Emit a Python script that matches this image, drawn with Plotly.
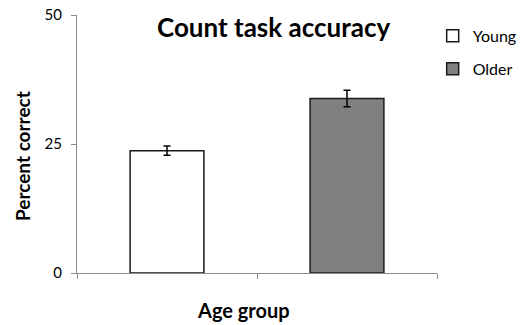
import plotly.graph_objects as go

# Count task accuracy by age group
groups = ["Young", "Older"]
accuracy = [23.7, 33.8]
sem = [0.9, 1.6]
fills = ["#ffffff", "#808080"]

FONT = "Lato"
AXIS_GREY = "#8c8c8c"

fig = go.Figure()
for i, (g, v, e, c) in enumerate(zip(groups, accuracy, sem, fills)):
    fig.add_trace(go.Bar(
        x=[g], y=[v], name=g,
        width=0.41, showlegend=True,
        marker=dict(color=c, line=dict(color="#1a1a1a", width=1.5)),
        error_y=dict(type="data", array=[e], visible=True,
                     color="#000000", thickness=1.5, width=3.5),
        legend="legend" if i == 0 else "legend2",
    ))

fig.update_layout(
    width=528, height=325,
    margin=dict(l=77, r=91, t=15, b=52, autoexpand=False),
    paper_bgcolor="white", plot_bgcolor="white",
    barmode="overlay", showlegend=True,
    font=dict(family=FONT, color="#000000"),
    legend=dict(x=0.988, xanchor="left", y=0.985, yanchor="top",
                font=dict(size=16, family=FONT), bgcolor="rgba(0,0,0,0)"),
    legend2=dict(x=0.988, xanchor="left", y=0.857, yanchor="top",
                 font=dict(size=16, family=FONT), bgcolor="rgba(0,0,0,0)"),
    annotations=[
        dict(text="<b>Count task accuracy</b>", xref="paper", yref="paper",
             x=0.546, y=0.955, xanchor="center", yanchor="middle",
             showarrow=False, font=dict(size=26, family=FONT)),
        dict(text="<b>Age group</b>", xref="paper", yref="paper",
             x=0.462, y=-0.143, xanchor="center", yanchor="middle",
             showarrow=False, font=dict(size=20, family=FONT)),
        dict(text="<b>Percent correct</b>", xref="paper", yref="paper",
             x=-0.153, xanchor="center", y=0.453, yanchor="middle",
             textangle=-90, showarrow=False, font=dict(size=19, family=FONT)),
    ],
)

fig.update_xaxes(
    type="category", range=[-0.5, 1.5], automargin=False,
    showticklabels=False, tickson="boundaries",
    ticks="outside", ticklen=5, tickcolor=AXIS_GREY, tickwidth=1,
    showline=True, linecolor=AXIS_GREY, linewidth=1,
    showgrid=False, zeroline=False,
)
fig.update_yaxes(
    range=[0, 50], tickvals=[0, 25, 50], automargin=False,
    ticks="outside", ticklen=5, tickcolor=AXIS_GREY, tickwidth=1,
    showline=True, linecolor=AXIS_GREY, linewidth=1,
    showgrid=False, zeroline=False,
    tickfont=dict(size=15, family=FONT), ticklabelstandoff=6,
)

fig.write_html("out.html")
